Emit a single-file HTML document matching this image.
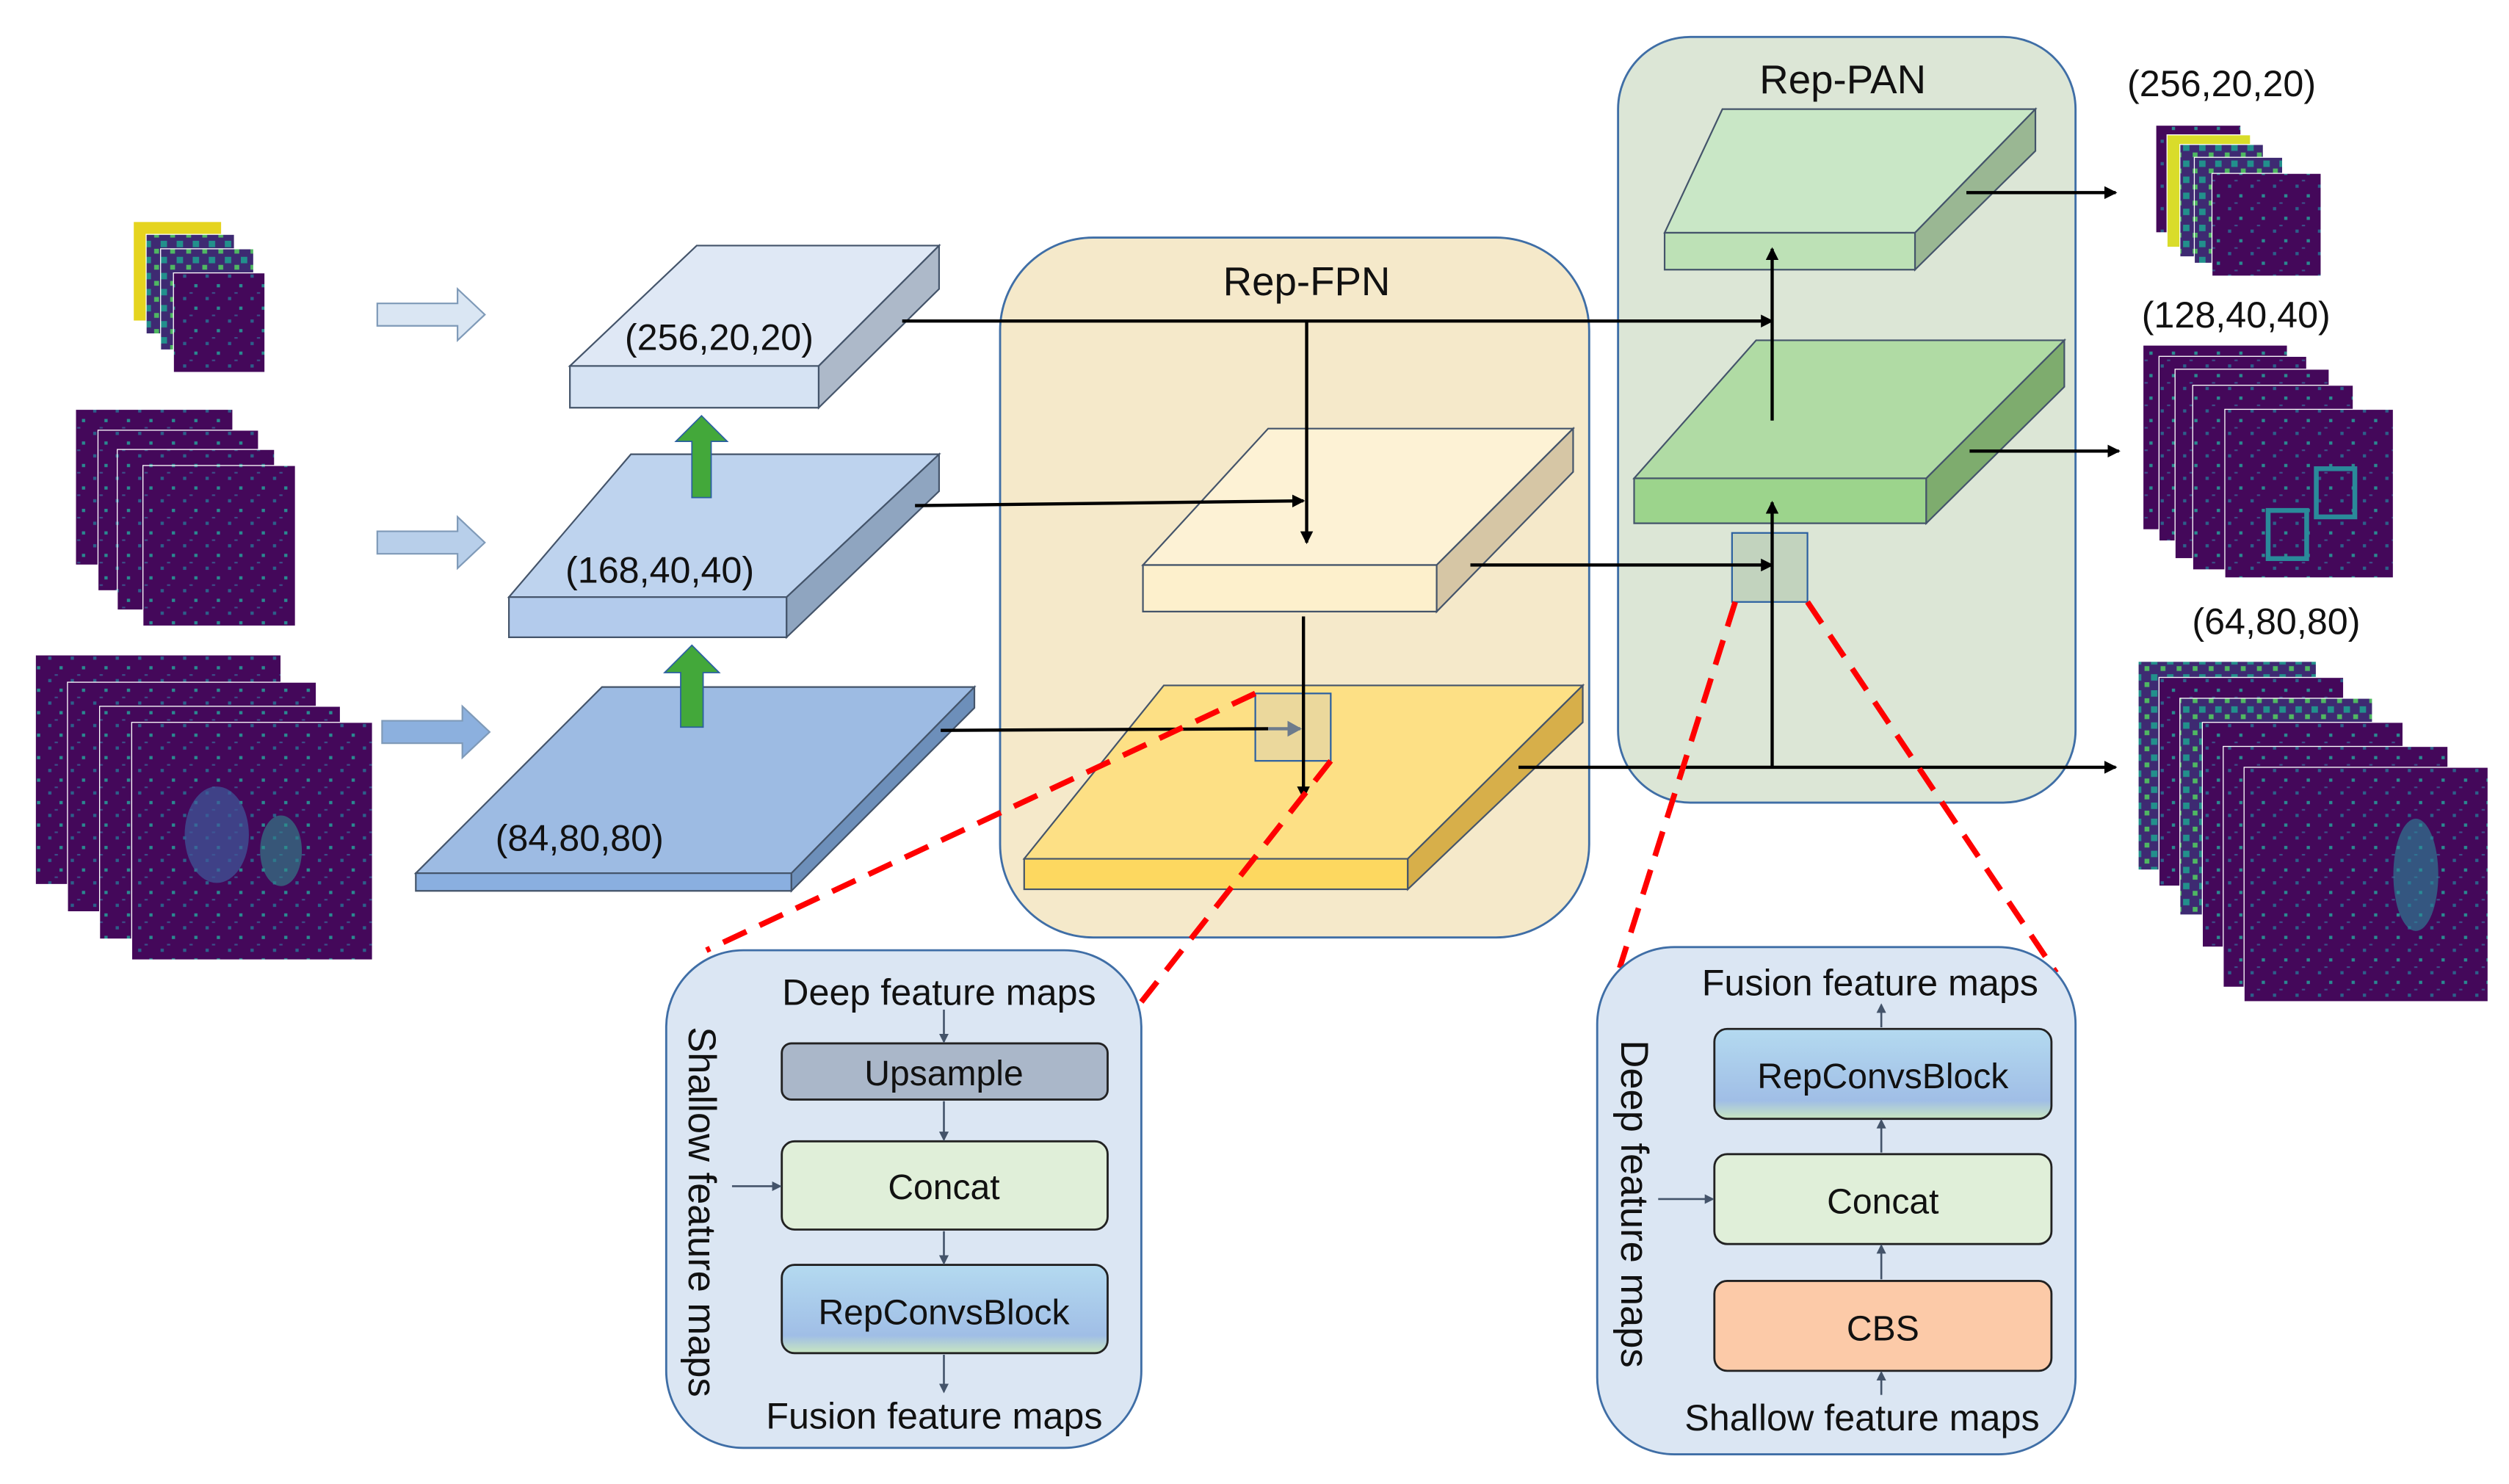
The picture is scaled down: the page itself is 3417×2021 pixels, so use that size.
<!DOCTYPE html>
<html><head><meta charset="utf-8"><style>html,body{margin:0;padding:0;background:#fff}svg{display:block}text{font-family:"Liberation Sans",sans-serif;fill:#111}</style></head>
<body>
<svg width="3417" height="2021" viewBox="0 0 1563 924.5" xmlns="http://www.w3.org/2000/svg">
<defs>
<marker id="ah" markerWidth="8" markerHeight="8" refX="7" refY="4" orient="auto" markerUnits="userSpaceOnUse"><path d="M0,0 L8,4 L0,8 z" fill="#000"/></marker>
<marker id="as" markerWidth="6" markerHeight="6" refX="5" refY="3" orient="auto" markerUnits="userSpaceOnUse"><path d="M0,0 L6,3 L0,6 z" fill="#44546a"/></marker>
<marker id="ag" markerWidth="10" markerHeight="10" refX="8" refY="5" orient="auto" markerUnits="userSpaceOnUse"><path d="M0,0 L9,5 L0,10 z" fill="#6d7b8c"/></marker>
<linearGradient id="rcb" x1="0" y1="0" x2="0" y2="1"><stop offset="0" stop-color="#b4daf0"/><stop offset="0.8" stop-color="#a0bee6"/><stop offset="1" stop-color="#c8e6c0"/></linearGradient>
<pattern id="fm" width="14" height="14" patternUnits="userSpaceOnUse"><rect width="14" height="14" fill="#44085a"/><rect x="2" y="3" width="2" height="2" fill="#2c5f8a"/><rect x="9" y="9" width="2" height="2" fill="#2a8a90"/><rect x="6" y="0" width="2" height="1" fill="#3b4f88"/></pattern>
<pattern id="fm2" width="10" height="10" patternUnits="userSpaceOnUse"><rect width="10" height="10" fill="#3e2a72"/><rect x="0" y="0" width="4" height="4" fill="#22908c"/><rect x="6" y="5" width="3" height="3" fill="#4fb862"/></pattern>
</defs>

<g stroke="#fff" stroke-width="0.6">
<rect x="83" y="138" width="55" height="62" fill="#e5d41f"/>
<rect x="91" y="146" width="55" height="62" fill="url(#fm2)"/>
<rect x="100" y="155" width="58" height="63" fill="url(#fm2)"/>
<rect x="108" y="170" width="57" height="62" fill="url(#fm)"/>
<rect x="47" y="255" width="98" height="97" fill="url(#fm)"/>
<rect x="61" y="268" width="100" height="100" fill="url(#fm)"/>
<rect x="73" y="280" width="98" height="100" fill="url(#fm)"/>
<rect x="89" y="290" width="95" height="100" fill="url(#fm)"/>
<rect x="22" y="408" width="153" height="143" fill="url(#fm)"/>
<rect x="42" y="425" width="155" height="143" fill="url(#fm)"/>
<rect x="62" y="440" width="150" height="145" fill="url(#fm)"/>
<rect x="82" y="450" width="150" height="148" fill="url(#fm)"/>
</g>
<ellipse cx="135" cy="520" rx="20" ry="30" fill="#3d5a9a" opacity="0.7"/>
<ellipse cx="175" cy="530" rx="13" ry="22" fill="#2f8a8c" opacity="0.6"/>

<path d="M235,189 h50 v-9 l17,16 l-17,16 v-9 h-50z" fill="#dae6f3" stroke="#7f9ab8"/>
<path d="M235,331 h50 v-9 l17,16 l-17,16 v-9 h-50z" fill="#b8cfea" stroke="#7f9ab8"/>
<path d="M238,449 h50 v-9 l17,16 l-17,16 v-9 h-50z" fill="#8cb0de" stroke="#7f9ab8"/>

<g stroke="#44546a" stroke-width="1">
<polygon points="434,153 585,153 510,228 355,228" fill="#dfe8f5"/>
<polygon points="355,228 510,228 510,254 355,254" fill="#d6e3f3"/>
<polygon points="510,228 585,153 585,180 510,254" fill="#adb9c9"/>
<polygon points="393,283 585,283 490,372 317,372" fill="#bed3ee"/>
<polygon points="317,372 490,372 490,397 317,397" fill="#b3cbec"/>
<polygon points="490,372 585,283 585,306 490,397" fill="#8fa5c0"/>
<polygon points="375,428 607,428 493,544 259,544" fill="#9dbbe3"/>
<polygon points="259,544 493,544 493,555 259,555" fill="#8aafe0"/>
<polygon points="493,544 607,428 607,441 493,555" fill="#6d8fba"/>
</g>
<text x="448" y="218" font-size="23" text-anchor="middle">(256,20,20)</text>
<text x="411" y="363" font-size="23" text-anchor="middle">(168,40,40)</text>
<text x="361" y="530" font-size="23" text-anchor="middle">(84,80,80)</text>

<path d="M431,310 v-35 h-10 l16,-16 l16,16 h-10 v35z" fill="#43a83a" stroke="#2a5fa0" stroke-width="0.8"/>
<path d="M424,453 v-34 h-10 l17,-17 l17,17 h-10 v34z" fill="#43a83a" stroke="#2a5fa0" stroke-width="0.8"/>

<rect x="623" y="148" width="367" height="436" rx="58" fill="#f5e9ca" stroke="#3f6ea6" stroke-width="1.3"/>
<text x="814" y="184" font-size="25" text-anchor="middle">Rep-FPN</text>
<rect x="1008" y="23" width="285" height="477" rx="45" fill="#dce6d6" stroke="#3f6ea6" stroke-width="1.3"/>
<text x="1148" y="58" font-size="25" text-anchor="middle">Rep-PAN</text>

<g stroke="#44546a" stroke-width="1">
<polygon points="790,267 980,267 895,352 712,352" fill="#fdf2d5"/>
<polygon points="712,352 895,352 895,381 712,381" fill="#fdf0cc"/>
<polygon points="895,352 980,267 980,294 895,381" fill="#d6c6a5"/>
<polygon points="725,427 986,427 877,535 638,535" fill="#fde085"/>
<polygon points="638,535 877,535 877,554 638,554" fill="#fdd860"/>
<polygon points="877,535 986,427 986,450 877,554" fill="#d7af4a"/>
</g>

<g stroke="#44546a" stroke-width="1">
<polygon points="1073,68 1268,68 1193,145 1037,145" fill="#c9e7c6"/>
<polygon points="1037,145 1193,145 1193,168 1037,168" fill="#bde1b6"/>
<polygon points="1193,145 1268,68 1268,94 1193,168" fill="#9ab793"/>
<polygon points="1094,212 1286,212 1200,298 1018,298" fill="#b0dba4"/>
<polygon points="1018,298 1200,298 1200,326 1018,326" fill="#9cd48c"/>
<polygon points="1200,298 1286,212 1286,241 1200,326" fill="#7eac6e"/>
</g>

<rect x="782" y="432" width="47" height="42" fill="#c8c8c8" fill-opacity="0.35" stroke="#2a5fa0" stroke-width="1"/>
<rect x="1079" y="332" width="47" height="43" fill="#9ab79a" fill-opacity="0.4" stroke="#2a5fa0" stroke-width="1"/>

<g stroke="#000" stroke-width="2" fill="none">
<line x1="562" y1="200" x2="1104" y2="200" marker-end="url(#ah)"/>
<line x1="814" y1="200" x2="814" y2="338" marker-end="url(#ah)"/>
<line x1="570" y1="315" x2="812" y2="312" marker-end="url(#ah)"/>
<line x1="916" y1="352" x2="1104" y2="352" marker-end="url(#ah)"/>
<line x1="812" y1="384" x2="812" y2="497" marker-end="url(#ah)"/>
<line x1="586" y1="455" x2="790" y2="454"/>
<line x1="946" y1="478" x2="1318" y2="478" marker-end="url(#ah)"/>
<line x1="1104" y1="478" x2="1104" y2="313" marker-end="url(#ah)"/>
<line x1="1104" y1="262" x2="1104" y2="155" marker-end="url(#ah)"/>
<line x1="1225" y1="120" x2="1318" y2="120" marker-end="url(#ah)"/>
<line x1="1227" y1="281" x2="1320" y2="281" marker-end="url(#ah)"/>
</g>
<line x1="790" y1="454" x2="810" y2="454" stroke="#6d7b8c" stroke-width="2" marker-end="url(#ag)"/>

<g stroke="#f00" stroke-width="3.5" stroke-dasharray="16,9" fill="none">
<line x1="782" y1="432" x2="440" y2="592"/>
<line x1="829" y1="474" x2="708" y2="628"/>
<line x1="1081" y1="375" x2="1009" y2="603"/>
<line x1="1126" y1="375" x2="1281" y2="606"/>
</g>

<text x="1384" y="60" font-size="23" text-anchor="middle">(256,20,20)</text>
<text x="1393" y="204" font-size="23" text-anchor="middle">(128,40,40)</text>
<text x="1418" y="395" font-size="23" text-anchor="middle">(64,80,80)</text>
<g stroke="#fff" stroke-width="0.6">
<rect x="1343" y="78" width="53" height="67" fill="url(#fm)"/>
<rect x="1350" y="84" width="52" height="70" fill="#d9dc2a"/>
<rect x="1358" y="90" width="52" height="70" fill="url(#fm2)"/>
<rect x="1367" y="98" width="55" height="66" fill="url(#fm2)"/>
<rect x="1378" y="108" width="68" height="64" fill="url(#fm)"/>
<rect x="1335" y="215" width="90" height="115" fill="url(#fm)"/>
<rect x="1345" y="222" width="92" height="115" fill="url(#fm)"/>
<rect x="1355" y="230" width="96" height="118" fill="url(#fm)"/>
<rect x="1366" y="240" width="100" height="115" fill="url(#fm)"/>
<rect x="1386" y="255" width="105" height="105" fill="url(#fm)"/>
<rect x="1332" y="412" width="111" height="130" fill="url(#fm2)"/>
<rect x="1345" y="422" width="115" height="130" fill="url(#fm)"/>
<rect x="1358" y="435" width="120" height="135" fill="url(#fm2)"/>
<rect x="1372" y="450" width="125" height="140" fill="url(#fm)"/>
<rect x="1385" y="465" width="140" height="150" fill="url(#fm)"/>
<rect x="1398" y="478" width="152" height="146" fill="url(#fm)"/>
</g>
<rect x="1413" y="318" width="24" height="30" fill="none" stroke="#2a8a9a" stroke-width="3"/>
<rect x="1443" y="292" width="24" height="30" fill="none" stroke="#2a8a9a" stroke-width="3"/>
<ellipse cx="1505" cy="545" rx="14" ry="35" fill="#2a8a9a" opacity="0.6"/>

<rect x="415" y="592" width="296" height="310" rx="48" fill="#dbe6f3" stroke="#3f6ea6" stroke-width="1.3"/>
<text x="585" y="626" font-size="23" text-anchor="middle">Deep feature maps</text>
<rect x="487" y="650" width="203" height="35" rx="6" fill="#aab7c9" stroke="#222" stroke-width="1.3"/>
<text x="588" y="676" font-size="22" text-anchor="middle">Upsample</text>
<rect x="487" y="711" width="203" height="55" rx="8" fill="#e0efd9" stroke="#222" stroke-width="1.3"/>
<text x="588" y="747" font-size="22" text-anchor="middle">Concat</text>
<rect x="487" y="788" width="203" height="55" rx="8" fill="url(#rcb)" stroke="#222" stroke-width="1.3"/>
<text x="588" y="825" font-size="22" text-anchor="middle">RepConvsBlock</text>
<text x="582" y="890" font-size="23" text-anchor="middle">Fusion feature maps</text>
<text transform="translate(429,755) rotate(90)" font-size="24" text-anchor="middle">Shallow feature maps</text>
<g stroke="#44546a" stroke-width="1.2">
<line x1="588" y1="629" x2="588" y2="649" marker-end="url(#as)"/>
<line x1="588" y1="686" x2="588" y2="710" marker-end="url(#as)"/>
<line x1="588" y1="767" x2="588" y2="787" marker-end="url(#as)"/>
<line x1="588" y1="844" x2="588" y2="867" marker-end="url(#as)"/>
<line x1="456" y1="739" x2="486" y2="739" marker-end="url(#as)"/>
</g>

<rect x="995" y="590" width="298" height="316" rx="48" fill="#dbe6f3" stroke="#3f6ea6" stroke-width="1.3"/>
<text x="1165" y="620" font-size="23" text-anchor="middle">Fusion feature maps</text>
<rect x="1068" y="641" width="210" height="56" rx="8" fill="url(#rcb)" stroke="#222" stroke-width="1.3"/>
<text x="1173" y="678" font-size="22" text-anchor="middle">RepConvsBlock</text>
<rect x="1068" y="719" width="210" height="56" rx="8" fill="#e0efd9" stroke="#222" stroke-width="1.3"/>
<text x="1173" y="756" font-size="22" text-anchor="middle">Concat</text>
<rect x="1068" y="798" width="210" height="56" rx="8" fill="#fccaa8" stroke="#222" stroke-width="1.3"/>
<text x="1173" y="835" font-size="22" text-anchor="middle">CBS</text>
<text x="1160" y="891" font-size="23" text-anchor="middle">Shallow feature maps</text>
<text transform="translate(1010,750) rotate(90)" font-size="24" text-anchor="middle">Deep feature maps</text>
<g stroke="#44546a" stroke-width="1.2">
<line x1="1172" y1="869" x2="1172" y2="855" marker-end="url(#as)"/>
<line x1="1172" y1="797" x2="1172" y2="776" marker-end="url(#as)"/>
<line x1="1172" y1="718" x2="1172" y2="698" marker-end="url(#as)"/>
<line x1="1172" y1="640" x2="1172" y2="626" marker-end="url(#as)"/>
<line x1="1033" y1="747" x2="1067" y2="747" marker-end="url(#as)"/>
</g>
</svg>
</body></html>
